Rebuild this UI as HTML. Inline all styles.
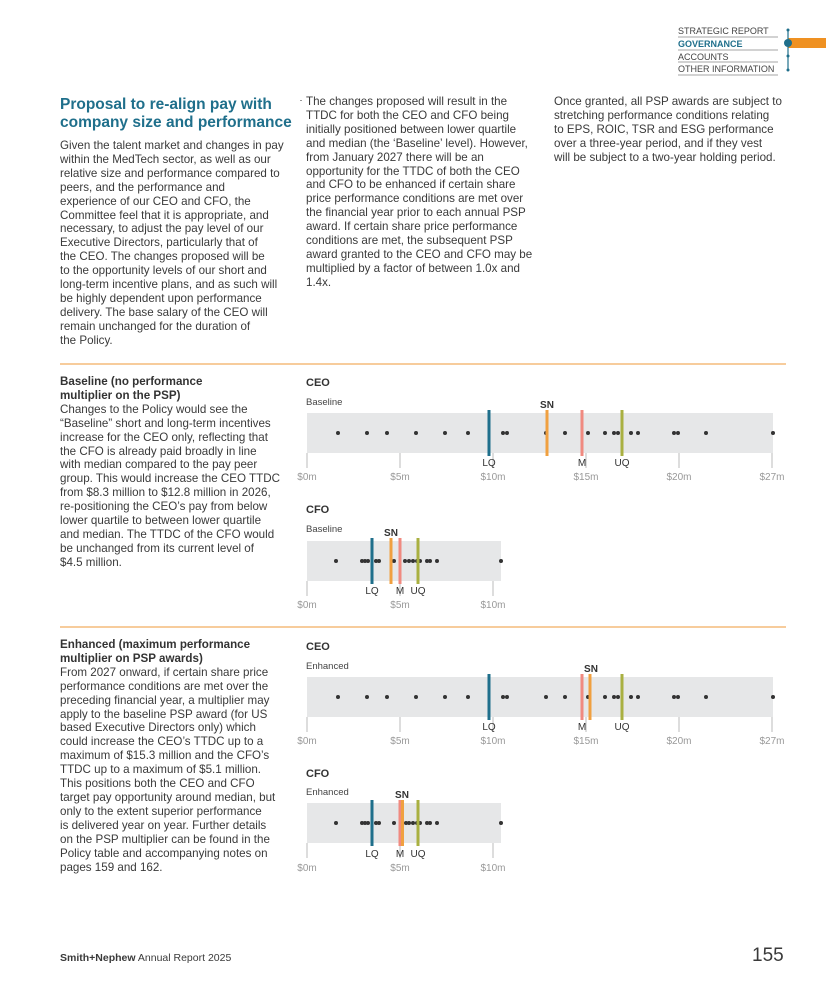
<!DOCTYPE html>
<html><head><meta charset="utf-8"><style>
body{margin:0;width:826px;height:983px;background:#fff;position:relative;font-family:"Liberation Sans",sans-serif;color:#3a3a3a;overflow:hidden}
.t{position:absolute;font-size:11.6px;line-height:13.9px;white-space:nowrap}
.h{position:absolute;font-weight:bold;color:#1f6f8b;font-size:15.5px;line-height:18px;white-space:nowrap}
.b{font-weight:bold;color:#333}
svg{position:absolute;left:0;top:0}
svg text{font-family:"Liberation Sans",sans-serif}
</style></head><body>
<div class="h" style="left:60px;top:96px">Proposal to re-align pay with<br>company size and performance</div>
<div class="t" style="left:60px;top:139px">Given the talent market and changes in pay<br>within the MedTech sector, as well as our<br>relative size and performance compared to<br>peers, and the performance and<br>experience of our CEO and CFO, the<br>Committee feel that it is appropriate, and<br>necessary, to adjust the pay level of our<br>Executive Directors, particularly that of<br>the CEO. The changes proposed will be<br>to the opportunity levels of our short and<br>long-term incentive plans, and as such will<br>be highly dependent upon performance<br>delivery. The base salary of the CEO will<br>remain unchanged for the duration of<br>the Policy.</div>
<div class="t" style="left:306px;top:95px">The changes proposed will result in the<br>TTDC for both the CEO and CFO being<br>initially positioned between lower quartile<br>and median (the ‘Baseline’ level). However,<br>from January 2027 there will be an<br>opportunity for the TTDC of both the CEO<br>and CFO to be enhanced if certain share<br>price performance conditions are met over<br>the financial year prior to each annual PSP<br>award. If certain share price performance<br>conditions are met, the subsequent PSP<br>award granted to the CEO and CFO may be<br>multiplied by a factor of between 1.0x and<br>1.4x.</div>
<div class="t" style="left:554px;top:95px">Once granted, all PSP awards are subject to<br>stretching performance conditions relating<br>to EPS, ROIC, TSR and ESG performance<br>over a three-year period, and if they vest<br>will be subject to a two-year holding period.</div>
<div class="t" style="left:60px;top:375px"><span class="b">Baseline (no performance<br>multiplier on the PSP)</span><br>Changes to the Policy would see the<br>“Baseline” short and long-term incentives<br>increase for the CEO only, reflecting that<br>the CFO is already paid broadly in line<br>with median compared to the pay peer<br>group. This would increase the CEO TTDC<br>from $8.3 million to $12.8 million in 2026,<br>re-positioning the CEO’s pay from below<br>lower quartile to between lower quartile<br>and median. The TTDC of the CFO would<br>be unchanged from its current level of<br>$4.5 million.</div>
<div class="t" style="left:60px;top:638px"><span class="b">Enhanced (maximum performance<br>multiplier on PSP awards)</span><br>From 2027 onward, if certain share price<br>performance conditions are met over the<br>preceding financial year, a multiplier may<br>apply to the baseline PSP award (for US<br>based Executive Directors only) which<br>could increase the CEO’s TTDC up to a<br>maximum of $15.3 million and the CFO’s<br>TTDC up to a maximum of $5.1 million.<br>This positions both the CEO and CFO<br>target pay opportunity around median, but<br>only to the extent superior performance<br>is delivered year on year. Further details<br>on the PSP multiplier can be found in the<br>Policy table and accompanying notes on<br>pages 159 and 162.</div>
<div class="t" style="left:60px;top:952px;font-size:10.5px"><b>Smith+Nephew</b> Annual Report 2025</div>
<div class="t" style="left:752px;top:945px;font-size:19px;line-height:21px">155</div>

<svg width="826" height="983" viewBox="0 0 826 983">
<g font-size="9" fill="#444">
<text x="678" y="34">STRATEGIC REPORT</text>
<text x="678" y="47" fill="#1f6f8b" font-weight="bold">GOVERNANCE</text>
<text x="678" y="60">ACCOUNTS</text>
<text x="678" y="72">OTHER INFORMATION</text>
</g>
<g stroke="#888" stroke-width="0.8"><line x1="678" y1="37" x2="778" y2="37"/><line x1="678" y1="50" x2="778" y2="50"/><line x1="678" y1="62" x2="778" y2="62"/><line x1="678" y1="75" x2="778" y2="75"/></g>
<rect x="788" y="38" width="38" height="10" fill="#ef9122"/>
<line x1="788" y1="30" x2="788" y2="70" stroke="#1f6f8b" stroke-width="1.2"/>
<circle cx="788" cy="43" r="4" fill="#1f6f8b"/>
<circle cx="788" cy="30" r="1.5" fill="#1f6f8b"/><circle cx="788" cy="56" r="1.5" fill="#1f6f8b"/><circle cx="788" cy="70" r="1.5" fill="#1f6f8b"/>
<line x1="301" y1="100" x2="301" y2="101" stroke="#333"/>

<line x1="60" y1="364" x2="786" y2="364" stroke="#ef9a3a" stroke-width="1"/>
<line x1="60" y1="627" x2="786" y2="627" stroke="#ef9a3a" stroke-width="1"/>

<g>
<text x="306" y="386" font-size="11" font-weight="bold" fill="#333">CEO</text>
<text x="306" y="405" font-size="9.5" fill="#444">Baseline</text>
<rect x="307" y="413" width="466" height="40" fill="#e6e7e8"/>
<g stroke="#bbb" stroke-width="1"><line x1="307" y1="453" x2="307" y2="468"/><line x1="400" y1="453" x2="400" y2="468"/><line x1="493" y1="453" x2="493" y2="468"/><line x1="586" y1="453" x2="586" y2="468"/><line x1="679" y1="453" x2="679" y2="468"/><line x1="772" y1="453" x2="772" y2="468"/></g>
<g font-size="10" fill="#999" text-anchor="middle"><text x="307" y="480">$0m</text><text x="400" y="480">$5m</text><text x="493" y="480">$10m</text><text x="586" y="480">$15m</text><text x="679" y="480">$20m</text><text x="772" y="480">$27m</text></g>
<g fill="#333"><circle cx="338" cy="433" r="2"/><circle cx="367" cy="433" r="2"/><circle cx="387" cy="433" r="2"/><circle cx="416" cy="433" r="2"/><circle cx="445" cy="433" r="2"/><circle cx="468" cy="433" r="2"/><circle cx="503" cy="433" r="2"/><circle cx="507" cy="433" r="2"/><circle cx="546" cy="433" r="2"/><circle cx="565" cy="433" r="2"/><circle cx="588" cy="433" r="2"/><circle cx="605" cy="433" r="2"/><circle cx="614" cy="433" r="2"/><circle cx="618" cy="433" r="2"/><circle cx="631" cy="433" r="2"/><circle cx="638" cy="433" r="2"/><circle cx="674" cy="433" r="2"/><circle cx="678" cy="433" r="2"/><circle cx="706" cy="433" r="2"/><circle cx="773" cy="433" r="2"/></g>
<g stroke-width="3"><line x1="489" y1="410" x2="489" y2="456" stroke="#1f6f8b"/><line x1="547" y1="410" x2="547" y2="456" stroke="#f0a040"/><line x1="582" y1="410" x2="582" y2="456" stroke="#f08a80"/><line x1="622" y1="410" x2="622" y2="456" stroke="#a9b041"/></g>
<g font-size="10" fill="#333" text-anchor="middle"><text x="489" y="466">LQ</text><text x="582" y="466">M</text><text x="622" y="466">UQ</text><text x="547" y="408" font-weight="bold">SN</text></g>
</g>

<g>
<text x="306" y="513" font-size="11" font-weight="bold" fill="#333">CFO</text>
<text x="306" y="532" font-size="9.5" fill="#444">Baseline</text>
<rect x="307" y="541" width="194" height="40" fill="#e6e7e8"/>
<g stroke="#bbb"><line x1="307" y1="581" x2="307" y2="596"/><line x1="400" y1="581" x2="400" y2="596"/><line x1="493" y1="581" x2="493" y2="596"/></g>
<g font-size="10" fill="#999" text-anchor="middle"><text x="307" y="608">$0m</text><text x="400" y="608">$5m</text><text x="493" y="608">$10m</text></g>
<g fill="#333"><circle cx="336" cy="561" r="2"/><circle cx="362" cy="561" r="2"/><circle cx="365" cy="561" r="2"/><circle cx="368" cy="561" r="2"/><circle cx="376" cy="561" r="2"/><circle cx="379" cy="561" r="2"/><circle cx="394" cy="561" r="2"/><circle cx="405" cy="561" r="2"/><circle cx="409" cy="561" r="2"/><circle cx="413" cy="561" r="2"/><circle cx="417" cy="561" r="2"/><circle cx="420" cy="561" r="2"/><circle cx="427" cy="561" r="2"/><circle cx="430" cy="561" r="2"/><circle cx="437" cy="561" r="2"/><circle cx="501" cy="561" r="2"/></g>
<g stroke-width="3"><line x1="372" y1="538" x2="372" y2="584" stroke="#1f6f8b"/><line x1="391" y1="538" x2="391" y2="584" stroke="#f0a040"/><line x1="400" y1="538" x2="400" y2="584" stroke="#f08a80"/><line x1="418" y1="538" x2="418" y2="584" stroke="#a9b041"/></g>
<g font-size="10" fill="#333" text-anchor="middle"><text x="372" y="594">LQ</text><text x="400" y="594">M</text><text x="418" y="594">UQ</text><text x="391" y="536" font-weight="bold">SN</text></g>
</g>

<g>
<text x="306" y="650" font-size="11" font-weight="bold" fill="#333">CEO</text>
<text x="306" y="669" font-size="9.5" fill="#444">Enhanced</text>
<rect x="307" y="677" width="466" height="40" fill="#e6e7e8"/>
<g stroke="#bbb"><line x1="307" y1="717" x2="307" y2="732"/><line x1="400" y1="717" x2="400" y2="732"/><line x1="493" y1="717" x2="493" y2="732"/><line x1="586" y1="717" x2="586" y2="732"/><line x1="679" y1="717" x2="679" y2="732"/><line x1="772" y1="717" x2="772" y2="732"/></g>
<g font-size="10" fill="#999" text-anchor="middle"><text x="307" y="744">$0m</text><text x="400" y="744">$5m</text><text x="493" y="744">$10m</text><text x="586" y="744">$15m</text><text x="679" y="744">$20m</text><text x="772" y="744">$27m</text></g>
<g fill="#333"><circle cx="338" cy="697" r="2"/><circle cx="367" cy="697" r="2"/><circle cx="387" cy="697" r="2"/><circle cx="416" cy="697" r="2"/><circle cx="445" cy="697" r="2"/><circle cx="468" cy="697" r="2"/><circle cx="503" cy="697" r="2"/><circle cx="507" cy="697" r="2"/><circle cx="546" cy="697" r="2"/><circle cx="565" cy="697" r="2"/><circle cx="588" cy="697" r="2"/><circle cx="605" cy="697" r="2"/><circle cx="614" cy="697" r="2"/><circle cx="618" cy="697" r="2"/><circle cx="631" cy="697" r="2"/><circle cx="638" cy="697" r="2"/><circle cx="674" cy="697" r="2"/><circle cx="678" cy="697" r="2"/><circle cx="706" cy="697" r="2"/><circle cx="773" cy="697" r="2"/></g>
<g stroke-width="3"><line x1="489" y1="674" x2="489" y2="720" stroke="#1f6f8b"/><line x1="582" y1="674" x2="582" y2="720" stroke="#f08a80"/><line x1="590" y1="674" x2="590" y2="720" stroke="#f0a040"/><line x1="622" y1="674" x2="622" y2="720" stroke="#a9b041"/></g>
<g font-size="10" fill="#333" text-anchor="middle"><text x="489" y="730">LQ</text><text x="582" y="730">M</text><text x="622" y="730">UQ</text><text x="591" y="672" font-weight="bold">SN</text></g>
</g>

<g>
<text x="306" y="777" font-size="11" font-weight="bold" fill="#333">CFO</text>
<text x="306" y="795" font-size="9.5" fill="#444">Enhanced</text>
<rect x="307" y="803" width="194" height="40" fill="#e6e7e8"/>
<g stroke="#bbb"><line x1="307" y1="843" x2="307" y2="858"/><line x1="400" y1="843" x2="400" y2="858"/><line x1="493" y1="843" x2="493" y2="858"/></g>
<g font-size="10" fill="#999" text-anchor="middle"><text x="307" y="871">$0m</text><text x="400" y="871">$5m</text><text x="493" y="871">$10m</text></g>
<g fill="#333"><circle cx="336" cy="823" r="2"/><circle cx="362" cy="823" r="2"/><circle cx="365" cy="823" r="2"/><circle cx="368" cy="823" r="2"/><circle cx="376" cy="823" r="2"/><circle cx="379" cy="823" r="2"/><circle cx="394" cy="823" r="2"/><circle cx="406" cy="823" r="2"/><circle cx="409" cy="823" r="2"/><circle cx="413" cy="823" r="2"/><circle cx="417" cy="823" r="2"/><circle cx="420" cy="823" r="2"/><circle cx="427" cy="823" r="2"/><circle cx="430" cy="823" r="2"/><circle cx="437" cy="823" r="2"/><circle cx="501" cy="823" r="2"/></g>
<g stroke-width="3"><line x1="372" y1="800" x2="372" y2="846" stroke="#1f6f8b"/><line x1="400" y1="800" x2="400" y2="846" stroke="#f08a80"/><line x1="402.5" y1="800" x2="402.5" y2="846" stroke="#f0a040"/><line x1="418" y1="800" x2="418" y2="846" stroke="#a9b041"/></g>
<g font-size="10" fill="#333" text-anchor="middle"><text x="372" y="857">LQ</text><text x="400" y="857">M</text><text x="418" y="857">UQ</text><text x="402" y="798" font-weight="bold">SN</text></g>
</g>
</svg>
</body></html>
